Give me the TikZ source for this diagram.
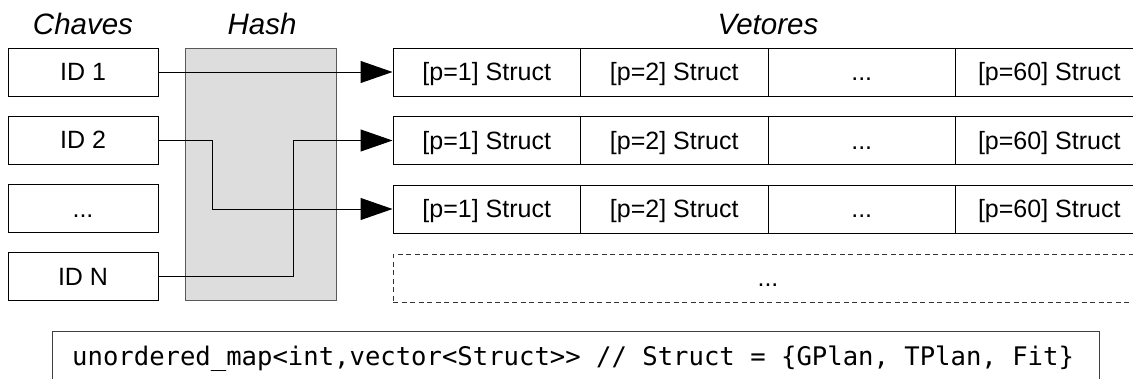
\documentclass[tikz,border=0pt]{standalone}
\usepackage{fontspec}
\setmainfont{Liberation Sans}
\newfontfamily\codefont{DejaVu Sans Mono}
\usetikzlibrary{arrows.meta}
\definecolor{hashgray}{RGB}{221,221,221}
\newcommand{\labfont}{\fontsize{25}{30}\selectfont}
\newcommand{\headfont}{\fontsize{29.5}{34}\selectfont\itshape}
\newcommand{\srcfont}{\codefont\fontsize{25.6}{30}\selectfont}
\begin{document}
\begin{tikzpicture}[x=1pt,y=-1pt,
  keybox/.style={draw=black, line width=1pt, minimum width=150pt, minimum height=48pt,
    inner sep=0pt, font=\labfont, text height=17.9pt, text depth=0pt},
  cellbox/.style={keybox, minimum width=187.5pt},
  hashbox/.style={draw=black!65, line width=1pt, fill=hashgray, minimum width=151pt,
    minimum height=252pt, inner sep=0pt},
  morebox/.style={draw=black!80, line width=0.9pt, dash pattern=on 5pt off 3.5pt,
    minimum width=750pt, minimum height=48pt, inner sep=0pt, font=\labfont,
    text height=17.9pt, text depth=0pt},
  codebox/.style={draw=black!75, line width=1pt, minimum width=1047pt,
    minimum height=80pt, inner sep=0pt, anchor=north west},
  heading/.style={anchor=base, inner sep=0pt, font=\headfont},
  link/.style={draw=black, line width=1pt},
  arr/.style={link, -{Triangle[length=32pt,width=22pt]}}
]
\useasboundingbox (0,0) rectangle (1133,378);

% column headings
\node[heading] (hChaves) at (83,34.3) {Chaves};
\node[heading] (hHash) at (262,34.3) {Hash};
\node[heading] (hVetores) at (768,34.3) {Vetores};

% hash table block
\node[hashbox] (hash) at (260.5,174) {};

% keys
\node[keybox] (id1) at (83,72) {ID 1};
\node[keybox] (id2) at (83,140) {ID 2};
\node[keybox] (idd) at (83,208.5) {...};
\node[keybox] (idn) at (83,276.5) {ID N};

% vectors of structs
\foreach \r/\y in {1/72,2/140.5,3/209}{
  \node[cellbox] (r\r a) at (486.75,\y) {[p=1] Struct};
  \node[cellbox] (r\r b) at (674.25,\y) {[p=2] Struct};
  \node[cellbox] (r\r c) at (861.75,\y) {...};
  \node[cellbox] (r\r d) at (1049.25,\y) {[p=60] Struct};
}
\node[morebox] (more) at (768,278) {...};

% key -> vector links through the hash
\draw[arr] (id1.east) -- (r1a.west);
\draw[arr] (id2.east) -- ++(54,0) |- (r3a.west);
\draw[arr] (idn.east) -- ++(135,0) |- (r2a.west);

% container declaration
\node[codebox] (code) at (52,331) {};
\node[anchor=base west, inner sep=0pt, font=\srcfont] (codetext) at (72,365)
  {unordered\_map\textless{}int,vector\textless{}Struct\textgreater{}\textgreater{} // Struct = \{GPlan, TPlan, Fit\}};
\end{tikzpicture}
\end{document}
